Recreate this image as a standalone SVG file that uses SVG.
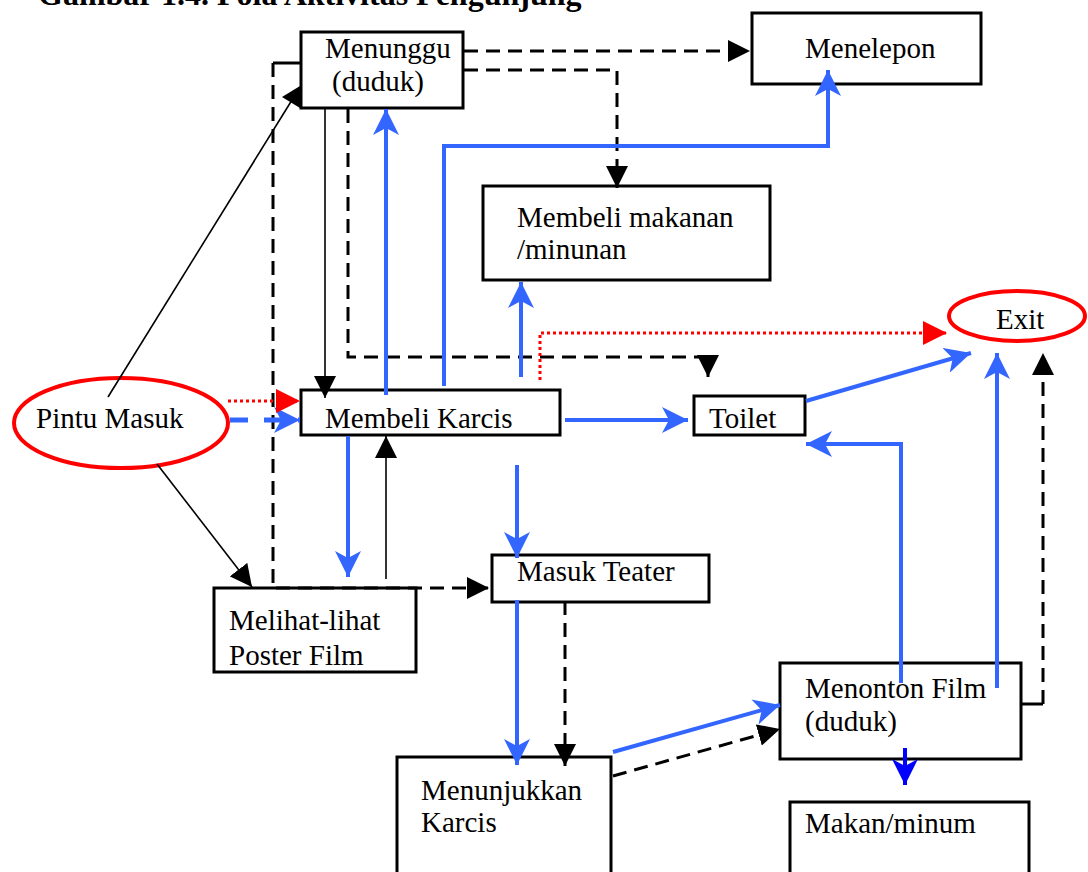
<svg xmlns="http://www.w3.org/2000/svg" width="1088" height="872" viewBox="0 0 1088 872">
<style>
  .box{fill:#fff;stroke:#000;stroke-width:3}
  .oval{fill:#fff;stroke:#ff0000;stroke-width:4}
  .t{font-family:"Liberation Serif","Times New Roman",serif;font-size:29px;fill:#000}
  .title{font-family:"Liberation Serif","Times New Roman",serif;font-size:32px;font-weight:bold;fill:#000}
  .thin{fill:none;stroke:#000;stroke-width:1.6}
  .dash{fill:none;stroke:#000;stroke-width:3;stroke-dasharray:14 8}
  .solid{fill:none;stroke:#000;stroke-width:3}
  .blue{fill:none;stroke:#3366ff;stroke-width:4}
  .bdash{fill:none;stroke:#3366ff;stroke-width:5;stroke-dasharray:18 16}
  .dblue{fill:none;stroke:#0000ff;stroke-width:4}
  .red{fill:none;stroke:#ff0000;stroke-width:3;stroke-dasharray:3 3}
</style>
<defs>
  <marker id="ab" markerUnits="userSpaceOnUse" markerWidth="22" markerHeight="22" refX="22" refY="11" orient="auto" viewBox="0 0 22 22">
    <path d="M0,0 L22,11 L0,22 z" fill="#000"/>
  </marker>
  <marker id="ablue" markerUnits="userSpaceOnUse" markerWidth="26" markerHeight="26" refX="26" refY="13" orient="auto" viewBox="0 0 26 26">
    <path d="M0,0 L26,13 L0,26 L7,13 z" fill="#3366ff"/>
  </marker>
  <marker id="adblue" markerUnits="userSpaceOnUse" markerWidth="26" markerHeight="26" refX="26" refY="13" orient="auto" viewBox="0 0 26 26">
    <path d="M0,0 L26,13 L0,26 L7,13 z" fill="#0000ff"/>
  </marker>
  <marker id="ared" markerUnits="userSpaceOnUse" markerWidth="24" markerHeight="24" refX="24" refY="12" orient="auto" viewBox="0 0 24 24">
    <path d="M0,0 L24,12 L0,24 z" fill="#ff0000"/>
  </marker>
</defs>

<text class="title" x="38" y="5">Gambar 1.4. Pola Aktivitas Pengunjung</text>

<g id="menunggu"><rect class="box" x="301" y="32" width="162" height="76"/><text class="t" x="325" y="58">Menunggu</text><text class="t" x="332" y="91">(duduk)</text></g>
<g id="menelepon"><rect class="box" x="752" y="13" width="229" height="71"/><text class="t" x="805" y="58">Menelepon</text></g>
<g id="membeli-makanan"><rect class="box" x="483" y="186" width="287" height="94"/><text class="t" x="517" y="227">Membeli makanan</text><text class="t" x="517" y="259">/minunan</text></g>
<g id="exit"><ellipse class="oval" cx="1017" cy="316" rx="68" ry="25"/><text class="t" x="996" y="329">Exit</text></g>
<g id="pintu-masuk"><ellipse class="oval" cx="121" cy="423" rx="107" ry="45"/><text class="t" x="36" y="428">Pintu Masuk</text></g>
<g id="membeli-karcis"><rect class="box" x="301" y="390" width="259" height="45"/><text class="t" x="325" y="428">Membeli Karcis</text></g>
<g id="toilet"><rect class="box" x="694" y="396" width="111" height="39"/><text class="t" x="709" y="428">Toilet</text></g>
<g id="melihat"><rect class="box" x="214" y="588" width="202" height="84"/><text class="t" x="229" y="630">Melihat-lihat</text><text class="t" x="229" y="665">Poster Film</text></g>
<g id="masuk-teater"><rect class="box" x="492" y="555" width="217" height="47"/><text class="t" x="517" y="581">Masuk Teater</text></g>
<g id="menunjukkan"><rect class="box" x="397" y="757" width="214" height="130"/><text class="t" x="421" y="800">Menunjukkan</text><text class="t" x="421" y="832">Karcis</text></g>
<g id="menonton"><rect class="box" x="780" y="663" width="241" height="96"/><text class="t" x="805" y="698">Menonton Film</text><text class="t" x="805" y="731">(duduk)</text></g>
<g id="makan"><rect class="box" x="790" y="802" width="239" height="90"/><text class="t" x="805" y="833">Makan/minum</text></g>

<g id="connectors">
  <!-- black dashed -->
  <path class="dash" d="M464,51 H750" marker-end="url(#ab)"/>
  <path class="dash" d="M464,70 H617 V188" marker-end="url(#ab)"/>
  <path class="dash" d="M348,109 V357 H708 V377" marker-end="url(#ab)"/>
  <path class="solid" d="M301,63 H273"/>
  <path class="dash" d="M273,63 V588 H489" marker-end="url(#ab)"/>
  <path class="dash" d="M565,601 V766" marker-end="url(#ab)"/>
  <path class="dash" d="M613,776 L780,729" marker-end="url(#ab)"/>
  <path class="solid" d="M1021,704 H1043"/>
  <path class="dash" d="M1043,704 V353" marker-end="url(#ab)"/>
  <!-- thin black -->
  <path class="thin" d="M108,397 L292,100"/>
  <polygon points="282,97 300,86 300,108" fill="#000"/>
  <path class="thin" d="M325,109 V398" marker-end="url(#ab)"/>
  <path class="thin" d="M157,464 L252,587" marker-end="url(#ab)"/>
  <path class="thin" d="M386,579 V436" marker-end="url(#ab)"/>
  <!-- blue -->
  <path class="blue" d="M386,395 V109" marker-end="url(#ablue)"/>
  <path class="blue" d="M444,386 V146 H828 V70" marker-end="url(#ablue)"/>
  <path class="blue" d="M521,377 V282" marker-end="url(#ablue)"/>
  <path class="blue" d="M565,420 H688" marker-end="url(#ablue)"/>
  <path class="blue" d="M348,436 V577" marker-end="url(#ablue)"/>
  <path class="blue" d="M517,465 V558" marker-end="url(#ablue)"/>
  <path class="blue" d="M517,600 V765" marker-end="url(#ablue)"/>
  <path class="blue" d="M613,752 L780,705" marker-end="url(#ablue)"/>
  <path class="blue" d="M901,683 V444 H806" marker-end="url(#ablue)"/>
  <path class="blue" d="M997,688 V353" marker-end="url(#ablue)"/>
  <path class="blue" d="M806,401 L971,353" marker-end="url(#ablue)"/>
  <path class="bdash" d="M230,420 H300" marker-end="url(#ablue)"/>
  <path class="dblue" d="M905,748 V785" marker-end="url(#adblue)"/>
  <!-- red dotted -->
  <path class="red" d="M228,401 H300" marker-end="url(#ared)"/>
  <path class="red" d="M540,380 V333 H947" marker-end="url(#ared)"/>
</g>
</svg>
